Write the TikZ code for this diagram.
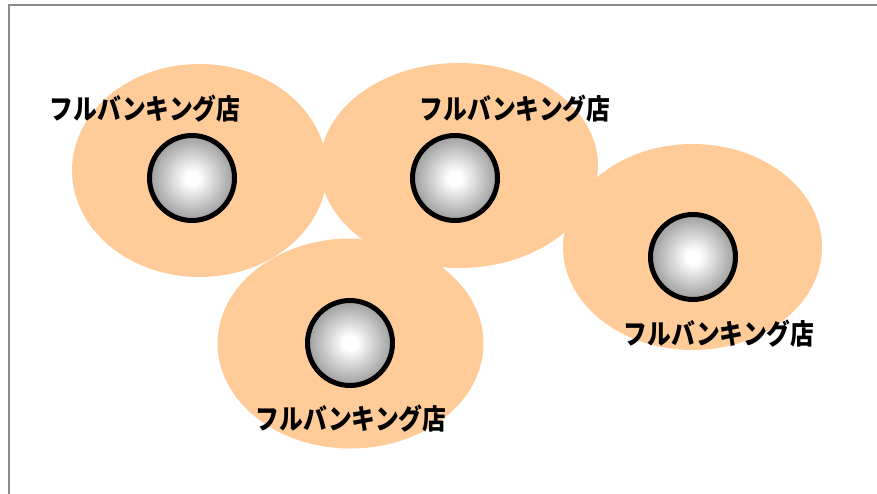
\documentclass[tikz,border=0pt]{standalone}
\usepackage{fontspec}
\usepackage{graphicx}
\newfontfamily\jpfont{Noto Sans CJK JP}
\usetikzlibrary{shapes.geometric}
\definecolor{peach}{RGB}{255,204,153}
\definecolor{framegray}{RGB}{140,140,140}
\definecolor{ballgray}{RGB}{115,115,115}
\pgfdeclareradialshading{ballshade}{\pgfpoint{0bp}{0bp}}{color(0bp)=(white); color(4bp)=(white); color(34bp)=(ballgray); color(50bp)=(ballgray)}
\tikzset{
  area/.style={ellipse, fill=peach, inner sep=0pt, outer sep=0pt},
  ball/.style={circle, draw=black, line width=5pt, minimum size=85pt, inner sep=0pt,
    shading=ballshade},
  lbl/.style={inner sep=0pt, font=\jpfont\bfseries\fontsize{28pt}{30pt}\selectfont, text=black}
}
\newcommand{\shopname}{\scalebox{0.85}[1]{フルバンキング店}}
\begin{document}
\begin{tikzpicture}[x=1pt, y=-1pt]
\useasboundingbox (0,0) rectangle (877,494);
\clip (0,0) rectangle (877,494);
% frame
\coordinate (fb) at (9,520);
\coordinate (ftl) at (9,5);
\coordinate (fr) at (900,5);
\draw[framegray, line width=2pt] (fb) -- (ftl) -- (fr);
% areas
\node[area, minimum width=255pt, minimum height=213pt] (a1) at (199.5,170.5) {};
\node[area, minimum width=278pt, minimum height=205pt] (a2) at (459,165.5) {};
\node[area, minimum width=259pt, minimum height=206pt] (a3) at (692.5,247) {};
\node[area, minimum width=266pt, minimum height=210pt] (a4) at (350.5,343.5) {};
% balls
\node[ball] (b1) at (192,178) {};
\node[ball] (b2) at (455,178) {};
\node[ball] (b3) at (693,257) {};
\node[ball] (b4) at (350,343) {};
% labels
\node[lbl] (l1) at (145,109) {\shopname};
\node[lbl] (l2) at (515,108.5) {\shopname};
\node[lbl] (l3) at (719,333.5) {\shopname};
\node[lbl] (l4) at (351,418.5) {\shopname};
\end{tikzpicture}
\end{document}
